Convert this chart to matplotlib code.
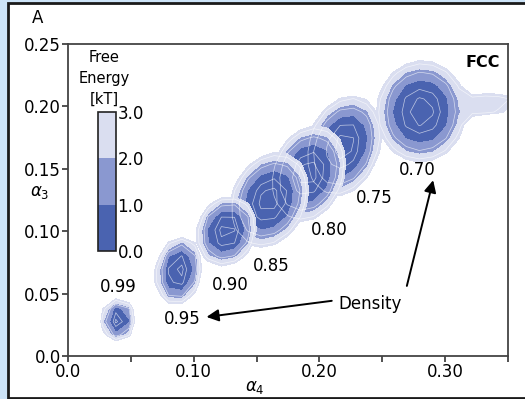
import matplotlib.pyplot as plt
import numpy as np
from matplotlib.colors import ListedColormap
from matplotlib.patches import Rectangle

# free energy wells (centre, half-axes at 3 kT, tilt, minimum); group = density index
densities = ['0.99', '0.95', '0.90', '0.85', '0.80', '0.75', '0.70']
well_group = [0, 1, 2, 3, 4, 5, 6, 6]
well_x = [0.040, 0.088, 0.126, 0.160, 0.191, 0.219, 0.281, 0.330]
well_y = [0.029, 0.068, 0.100, 0.125, 0.146, 0.168, 0.196, 0.202]
well_a = [0.018, 0.028, 0.029, 0.040, 0.040, 0.042, 0.041, 0.028]
well_b = [0.0145, 0.019, 0.024, 0.030, 0.029, 0.029, 0.036, 0.010]
well_ang = [85, 80, 70, 65, 70, 70, 85, 5]
well_min = [0.0, 0.0, 0.0, 0.0, 0.0, 0.0, 0.0, 2.0]

label_x = [0.040, 0.091, 0.129, 0.162, 0.208, 0.244, 0.278]
label_y = [0.055, 0.030, 0.057, 0.072, 0.101, 0.127, 0.149]

cb_levels = [0, 1, 2, 3]
colors = ['#4a63b0', '#8a98d0', '#dadef0']

W, H = 525, 399
fig = plt.figure(figsize=(W / 100, H / 100), dpi=100)
fig.patch.set_facecolor('#cde4f8')
panel = Rectangle((8 / W, 1 / H), 1.0, (396 - 1) / H, transform=fig.transFigure,
                  facecolor='white', edgecolor='#1a1a1a', lw=2, zorder=-5)
fig.patches.append(panel)

ax = fig.add_axes([68 / W, 1 - 356 / H, 440 / W, 312 / H])
ax.set_zorder(2)
ax.patch.set_alpha(0)

gx = np.arange(-0.004, 0.37, 0.0105)
gy = np.arange(-0.004, 0.26, 0.0105)
X, Y = np.meshgrid(gx, gy)
cmap = ListedColormap(colors)

# each density is drawn as its own landscape, higher densities on top
for g in reversed(range(len(densities))):
    F = np.full(X.shape, 10.0)
    for i, gi in enumerate(well_group):
        if gi != g:
            continue
        t = np.deg2rad(well_ang[i])
        u = (X - well_x[i]) * np.cos(t) + (Y - well_y[i]) * np.sin(t)
        v = -(X - well_x[i]) * np.sin(t) + (Y - well_y[i]) * np.cos(t)
        r = np.sqrt((u / well_a[i]) ** 2 + (v / well_b[i]) ** 2)
        F = np.minimum(F, well_min[i] + (3 - well_min[i]) * r ** 2.4)
    cf = ax.contourf(X, Y, F, levels=cb_levels, cmap=cmap)
    ax.contour(X, Y, F, levels=[0.15, 0.45, 1.6, 2.6], colors='white',
               linewidths=0.5, alpha=0.65)

for txt, lx, ly in zip(densities, label_x, label_y):
    ax.text(lx, ly, txt, fontsize=12, ha='center', va='center')

ax.text(0.240, 0.042, 'Density', fontsize=12, ha='center', va='center')
ax.annotate('', xy=(0.108, 0.031), xytext=(0.212, 0.0445),
            arrowprops=dict(arrowstyle='-|>', color='black', lw=1.4, mutation_scale=18))
ax.annotate('', xy=(0.291, 0.143), xytext=(0.269, 0.054),
            arrowprops=dict(arrowstyle='-|>', color='black', lw=1.4, mutation_scale=18))
ax.text(0.344, 0.235, 'FCC', fontsize=11.5, fontweight='bold', ha='right', va='center')

ax.set_xlim(0, 0.35)
ax.set_ylim(0, 0.25)
ax.set_xticks(np.arange(0, 0.351, 0.05))
ax.set_xticklabels(['0.0', '', '0.10', '', '0.20', '', '0.30', ''])
ax.set_yticks(np.arange(0, 0.251, 0.05))
ax.set_yticklabels(['0.0', '0.05', '0.10', '0.15', '0.20', '0.25'])
ax.tick_params(labelsize=12, length=4, width=1.2, color='#333333', pad=1)
for s in ax.spines.values():
    s.set_color('#444444')
    s.set_linewidth(1.3)
ax.set_xlabel(r'$\alpha_4$', fontsize=12, labelpad=0)
ax.xaxis.set_label_coords((255 - 68) / 440, -0.07)
ax.set_ylabel(r'$\alpha_3$', fontsize=12, rotation=0, va='center')
ax.yaxis.set_label_coords((40 - 68) / 440, (356 - 192) / 312)

fig.text(38 / W, 1 - 18 / H, 'A', fontsize=12, ha='center', va='center')

cax = fig.add_axes([98 / W, 1 - 251 / H, 18 / W, 139 / H])
cax.set_zorder(3)
cb = fig.colorbar(cf, cax=cax, ticks=cb_levels)
cb.ax.set_yticklabels(['0.0', '1.0', '2.0', '3.0'])
cb.ax.tick_params(labelsize=12, length=0, pad=1)
cb.outline.set_linewidth(1.2)
cb.outline.set_edgecolor('#222222')
fig.text(104 / W, 1 - 78 / H, 'Free\nEnergy\n[kT]', fontsize=10.5, ha='center', va='center',
         linespacing=1.5)

fig.savefig('out.png', dpi=100)
